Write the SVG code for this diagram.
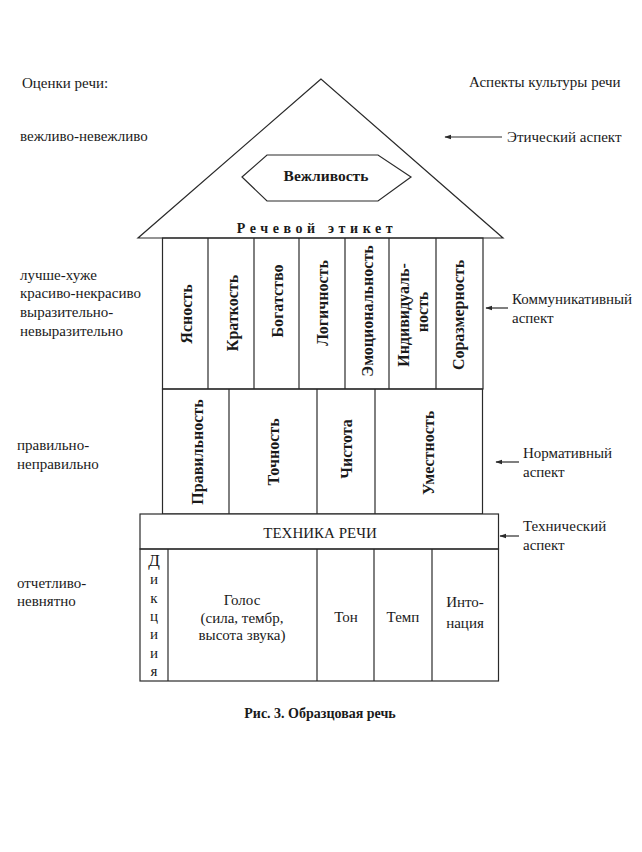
<svg xmlns="http://www.w3.org/2000/svg" width="642" height="852" viewBox="0 0 642 852">
<defs>
<style>
.ln{fill:none;stroke:#2a2a2a;stroke-width:1.2}
.bx{fill:#fff;stroke:#2a2a2a;stroke-width:1.2}
.t{font-family:"Liberation Serif","Times New Roman",serif;font-size:15px;fill:#1a1a1a}
.c{text-anchor:middle}
.b{font-weight:bold}
.v{font-family:"Liberation Serif","Times New Roman",serif;font-size:16px;font-weight:bold;fill:#1a1a1a;text-anchor:middle;dominant-baseline:central}
.ar{fill:none;stroke:#2a2a2a;stroke-width:1.2;marker-end:url(#ah)}
</style>
<marker id="ah" viewBox="0 0 10 10" refX="9" refY="5" markerWidth="7" markerHeight="7" markerUnits="userSpaceOnUse" orient="auto">
<path d="M0,1.5 L10,5 L0,8.5 Z" fill="#2a2a2a"/>
</marker>
</defs>
<rect width="642" height="852" fill="#fff"/>

<g id="left-labels">
<text class="t" x="22" y="88">Оценки речи:</text>
<text class="t" x="20" y="141">вежливо-невежливо</text>
<text class="t" x="20" y="280">лучше-хуже</text>
<text class="t" x="20" y="298">красиво-некрасиво</text>
<text class="t" x="20" y="317">выразительно-</text>
<text class="t" x="20" y="336">невыразительно</text>
<text class="t" x="17" y="450">правильно-</text>
<text class="t" x="17" y="469">неправильно</text>
<text class="t" x="17" y="588">отчетливо-</text>
<text class="t" x="17" y="606">невнятно</text>
</g>

<g id="right-labels">
<text class="t" x="469" y="87">Аспекты культуры речи</text>
<text class="t" x="507" y="142">Этический аспект</text>
<text class="t" x="512" y="304">Коммуникативный</text>
<text class="t" x="512" y="323">аспект</text>
<text class="t" x="523" y="458">Нормативный</text>
<text class="t" x="523" y="477">аспект</text>
<text class="t" x="523" y="531">Технический</text>
<text class="t" x="523" y="550">аспект</text>
</g>

<g id="roof">
<polygon class="ln" points="321,79 138,238 503,238"/>
<text class="t b c" x="317" y="233" style="font-size:14px;letter-spacing:4.6px">Речевой этикет</text>
</g>

<g id="politeness">
<polygon class="bx" points="242,177 267,155 378,155 411,177 378,201 267,201"/>
<text class="t b c" x="326" y="181" style="font-size:15.5px">Вежливость</text>
</g>

<g id="communicative-row">
<rect class="ln" x="162.5" y="238" width="320.5" height="151"/>
<line class="ln" x1="208" y1="238" x2="208" y2="389"/>
<line class="ln" x1="254" y1="238" x2="254" y2="389"/>
<line class="ln" x1="299" y1="238" x2="299" y2="389"/>
<line class="ln" x1="345" y1="238" x2="345" y2="389"/>
<line class="ln" x1="389" y1="238" x2="389" y2="389"/>
<line class="ln" x1="436" y1="238" x2="436" y2="389"/>
<text class="v" transform="translate(186,314) rotate(-90)">Ясность</text>
<text class="v" transform="translate(232,313) rotate(-90)">Краткость</text>
<text class="v" transform="translate(277,301) rotate(-90)">Богатство</text>
<text class="v" transform="translate(322,303) rotate(-90)">Логичность</text>
<text class="v" transform="translate(367,311) rotate(-90)">Эмоциональность</text>
<text class="v" transform="translate(403,315) rotate(-90)">Индивидуаль-</text>
<text class="v" transform="translate(422,312) rotate(-90)">ность</text>
<text class="v" transform="translate(458,315) rotate(-90)">Соразмерность</text>
</g>

<g id="normative-row">
<rect class="ln" x="162.5" y="389" width="320" height="125"/>
<line class="ln" x1="229" y1="389" x2="229" y2="514"/>
<line class="ln" x1="317" y1="389" x2="317" y2="514"/>
<line class="ln" x1="375" y1="389" x2="375" y2="514"/>
<text class="v" transform="translate(197,452) rotate(-90)">Правильность</text>
<text class="v" transform="translate(273,452) rotate(-90)">Точность</text>
<text class="v" transform="translate(346,449) rotate(-90)">Чистота</text>
<text class="v" transform="translate(428,453) rotate(-90)">Уместность</text>
</g>

<g id="technique">
<rect class="bx" x="140" y="514" width="358.5" height="35"/>
<text class="t c" x="320" y="538">ТЕХНИКА РЕЧИ</text>
</g>

<g id="technique-row">
<rect class="ln" x="140" y="549" width="358.5" height="132"/>
<line class="ln" x1="168" y1="549" x2="168" y2="681"/>
<line class="ln" x1="317" y1="549" x2="317" y2="681"/>
<line class="ln" x1="374" y1="549" x2="374" y2="681"/>
<line class="ln" x1="432" y1="549" x2="432" y2="681"/>
<text class="t c" x="154" y="566" style="font-size:17px">Д</text>
<text class="t c" x="154" y="584">и</text>
<text class="t c" x="154" y="603">к</text>
<text class="t c" x="154" y="621">ц</text>
<text class="t c" x="154" y="639">и</text>
<text class="t c" x="154" y="658">и</text>
<text class="t c" x="154" y="676">я</text>
<text class="t c" x="242" y="605">Голос</text>
<text class="t c" x="242" y="623">(сила, тембр,</text>
<text class="t c" x="242" y="640">высота звука)</text>
<text class="t c" x="346" y="622">Тон</text>
<text class="t c" x="403" y="622">Темп</text>
<text class="t c" x="465" y="607">Инто-</text>
<text class="t c" x="465" y="628">нация</text>
</g>

<g id="connectors">
<line class="ar" x1="502" y1="137" x2="445" y2="137"/>
<line class="ar" x1="508" y1="308" x2="486" y2="308"/>
<line class="ar" x1="519" y1="462" x2="496" y2="462"/>
<line class="ar" x1="519" y1="536" x2="500" y2="536"/>
</g>

<g id="caption">
<text class="t b c" x="320" y="718" style="font-size:14px">Рис. 3. Образцовая речь</text>
</g>
</svg>
